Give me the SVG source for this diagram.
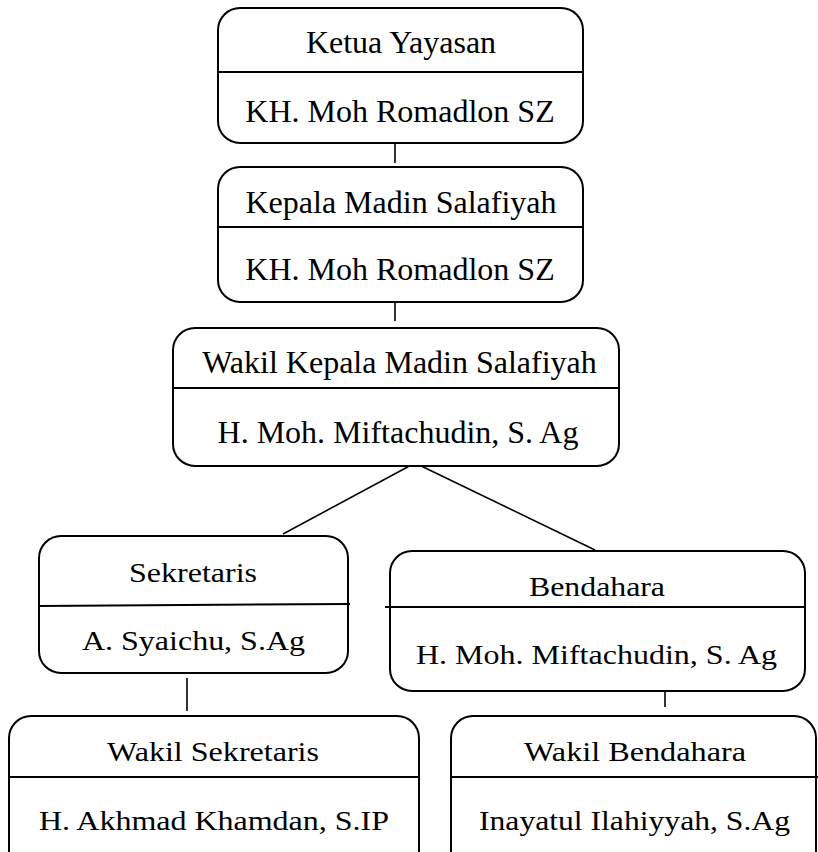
<svg xmlns="http://www.w3.org/2000/svg" width="818" height="852" viewBox="0 0 818 852">
<style>
.box{fill:#fff;stroke:#000;stroke-width:2}
.div{stroke:#000;stroke-width:2;fill:none}
.con{stroke:#000;stroke-width:1.6;fill:none}
text{font-family:"Liberation Serif","Times New Roman",serif;fill:#000;text-anchor:middle}
.t{font-size:32px}
.b{font-size:28px}
</style>
<rect width="818" height="852" fill="#fff"/>
<g id="connectors">
<line class="con" x1="395" y1="143" x2="395" y2="163"/>
<line class="con" x1="395" y1="302" x2="395" y2="321"/>
<line class="con" x1="415" y1="463" x2="283" y2="534"/>
<line class="con" x1="415" y1="463" x2="595" y2="550"/>
<line class="con" x1="187" y1="678" x2="187" y2="711"/>
<line class="con" x1="665" y1="691" x2="665" y2="707"/>
</g>
<g id="ketua">
<rect class="box" x="218" y="8" width="365" height="135" rx="22"/>
<line class="div" x1="218" y1="72" x2="583" y2="72"/>
<text class="t" x="401" y="53">Ketua Yayasan</text>
<text class="t" x="400" y="122">KH. Moh Romadlon SZ</text>
</g>
<g id="kepala">
<rect class="box" x="218" y="167" width="365" height="135" rx="22"/>
<line class="div" x1="218" y1="227" x2="583" y2="227"/>
<text class="t" x="401" y="213">Kepala Madin Salafiyah</text>
<text class="t" x="400" y="280">KH. Moh Romadlon SZ</text>
</g>
<g id="wakil-kepala">
<rect class="box" x="173" y="328" width="446" height="138" rx="22"/>
<line class="div" x1="173" y1="388" x2="619" y2="388"/>
<text class="t" x="399.5" y="373">Wakil Kepala Madin Salafiyah</text>
<text class="t" x="398" y="443">H. Moh. Miftachudin, S. Ag</text>
</g>
<g id="sekretaris">
<rect class="box" x="39" y="536" width="309" height="137" rx="22"/>
<line class="div" x1="39" y1="606" x2="350" y2="604"/>
<text class="b" x="193" y="582" textLength="128" lengthAdjust="spacingAndGlyphs">Sekretaris</text>
<text class="b" x="193.5" y="650" textLength="223" lengthAdjust="spacingAndGlyphs">A. Syaichu, S.Ag</text>
</g>
<g id="bendahara">
<rect class="box" x="390" y="551" width="415" height="140" rx="22"/>
<line class="div" x1="385" y1="607" x2="805" y2="607"/>
<text class="b" x="597" y="596" textLength="136" lengthAdjust="spacingAndGlyphs">Bendahara</text>
<text class="b" x="596.5" y="664" textLength="361" lengthAdjust="spacingAndGlyphs">H. Moh. Miftachudin, S. Ag</text>
</g>
<g id="wakil-sekretaris">
<rect class="box" x="9" y="716" width="410" height="160" rx="22"/>
<line class="div" x1="9" y1="777" x2="419" y2="777"/>
<text class="b" x="213" y="761" textLength="212" lengthAdjust="spacingAndGlyphs">Wakil Sekretaris</text>
<text class="b" x="214" y="830" textLength="350" lengthAdjust="spacingAndGlyphs">H. Akhmad Khamdan, S.IP</text>
</g>
<g id="wakil-bendahara">
<rect class="box" x="451" y="716" width="365" height="160" rx="22"/>
<line class="div" x1="451" y1="777" x2="818" y2="777"/>
<text class="b" x="635" y="761" textLength="222" lengthAdjust="spacingAndGlyphs">Wakil Bendahara</text>
<text class="b" x="634.5" y="830" textLength="311" lengthAdjust="spacingAndGlyphs">Inayatul Ilahiyyah, S.Ag</text>
</g>
</svg>
